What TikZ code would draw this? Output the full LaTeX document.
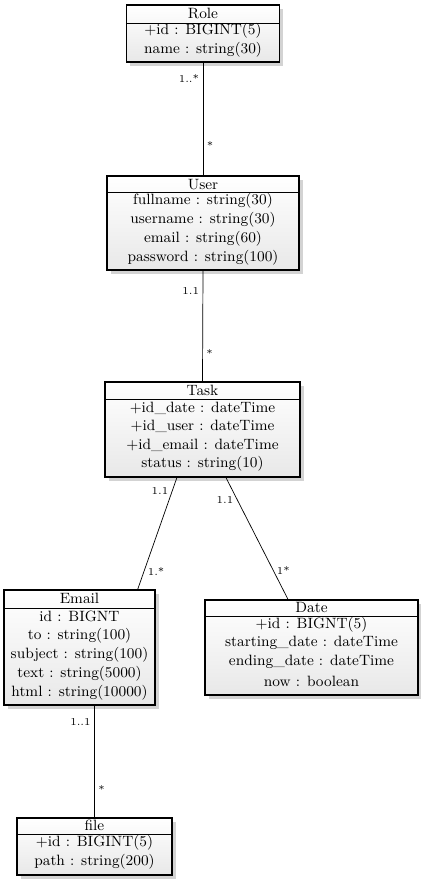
\documentclass[tikz,border=0pt]{standalone}
\usetikzlibrary{shadows}

\begin{document}
\begin{tikzpicture}[x=0.02cm, y=-0.02cm,
    classbox/.style={draw, thick, top color=white, bottom color=gray!18, drop shadow={opacity=0.35}, inner sep=0pt},
    headtext/.style={font=\fontsize{8.5}{10}\selectfont, inner sep=0pt},
    rowtext/.style={font=\fontsize{8.5}{10}\selectfont, inner sep=0pt},
    mult/.style={font=\fontsize{6}{7}\selectfont, inner sep=2pt}]
    \useasboundingbox (0,0) rectangle (421,880);

    % Role
    \node[classbox, minimum width=3.06cm, minimum height=1.14cm] (role) at (203,33.5) {};
    \node[headtext] (role-head) at ([yshift=-0.18cm]role.north) {Role};
    \draw ([yshift=-0.38cm]role.north west) -- ([yshift=-0.38cm]role.north east);
    \foreach \t [count=\i] in {+id : BIGINT(5), name : string(30)}
        \node[rowtext] (role-\i) at ([yshift=-0.52cm-(\i-1)*0.38cm]role.north) {\t};

    % User
    \node[classbox, minimum width=3.84cm, minimum height=1.88cm] (user) at (203,223) {};
    \node[headtext] (user-head) at ([yshift=-0.18cm]user.north) {User};
    \draw ([yshift=-0.34cm]user.north west) -- ([yshift=-0.34cm]user.north east);
    \foreach \t [count=\i] in {fullname : string(30), username : string(30), email : string(60), password : string(100)}
        \node[rowtext] (user-\i) at ([yshift=-0.5cm-(\i-1)*0.38cm]user.north) {\t};

    % Task
    \node[classbox, minimum width=3.9cm, minimum height=1.9cm] (task) at (202.5,429.5) {};
    \node[headtext] (task-head) at ([yshift=-0.18cm]task.north) {Task};
    \draw ([yshift=-0.36cm]task.north west) -- ([yshift=-0.36cm]task.north east);
    \foreach \t [count=\i] in {+id\_date : dateTime, +id\_user : dateTime, +id\_email : dateTime, status : string(10)}
        \node[rowtext] (task-\i) at ([yshift=-0.54cm-(\i-1)*0.37cm]task.north) {\t};

    % Email
    \node[classbox, minimum width=3.02cm, minimum height=2.3cm] (email) at (79.5,647.5) {};
    \node[headtext] (email-head) at ([yshift=-0.18cm]email.north) {Email};
    \draw ([yshift=-0.38cm]email.north west) -- ([yshift=-0.38cm]email.north east);
    \foreach \t [count=\i] in {id : BIGNT, to : string(100), subject : string(100), text : string(5000), html : string(10000)}
        \node[rowtext] (email-\i) at ([yshift=-0.54cm-(\i-1)*0.38cm]email.north) {\t};

    % Date
    \node[classbox, minimum width=4.26cm, minimum height=1.9cm] (date) at (311.5,647.5) {};
    \node[headtext] (date-head) at ([yshift=-0.16cm]date.north) {Date};
    \draw ([yshift=-0.34cm]date.north west) -- ([yshift=-0.34cm]date.north east);
    \foreach \t [count=\i] in {+id : BIGNT(5), starting\_date : dateTime, ending\_date : dateTime, now : boolean}
        \node[rowtext] (date-\i) at ([yshift=-0.5cm-(\i-1)*0.38cm]date.north) {\t};

    % file
    \node[classbox, minimum width=3.1cm, minimum height=1.14cm] (file) at (94.5,846.5) {};
    \node[headtext] (file-head) at ([yshift=-0.16cm]file.north) {file};
    \draw ([yshift=-0.34cm]file.north west) -- ([yshift=-0.34cm]file.north east);
    \foreach \t [count=\i] in {+id : BIGINT(5), path : string(200)}
        \node[rowtext] (file-\i) at ([yshift=-0.5cm-(\i-1)*0.38cm]file.north) {\t};

    % associations
    \draw (role.south) -- (user.north)
        node[mult, pos=0.14, left] {1..*} node[mult, pos=0.74, right] {*};
    \draw (user.south) -- (task.north)
        node[mult, pos=0.18, left] {1.1} node[mult, pos=0.75, right] {*};
    \draw (task.242.7) -- (email.45)
        node[mult, pos=0.12, left] {1.1} node[mult, pos=0.84, right] {1.*};
    \draw (task.296.3) -- (date.116.3)
        node[mult, pos=0.18, left] {1.1} node[mult, pos=0.76, right] {1*};
    \draw (email.south -| file.north) -- (file.north)
        node[mult, pos=0.15, left] {1..1} node[mult, pos=0.75, right] {*};
\end{tikzpicture}
\end{document}
